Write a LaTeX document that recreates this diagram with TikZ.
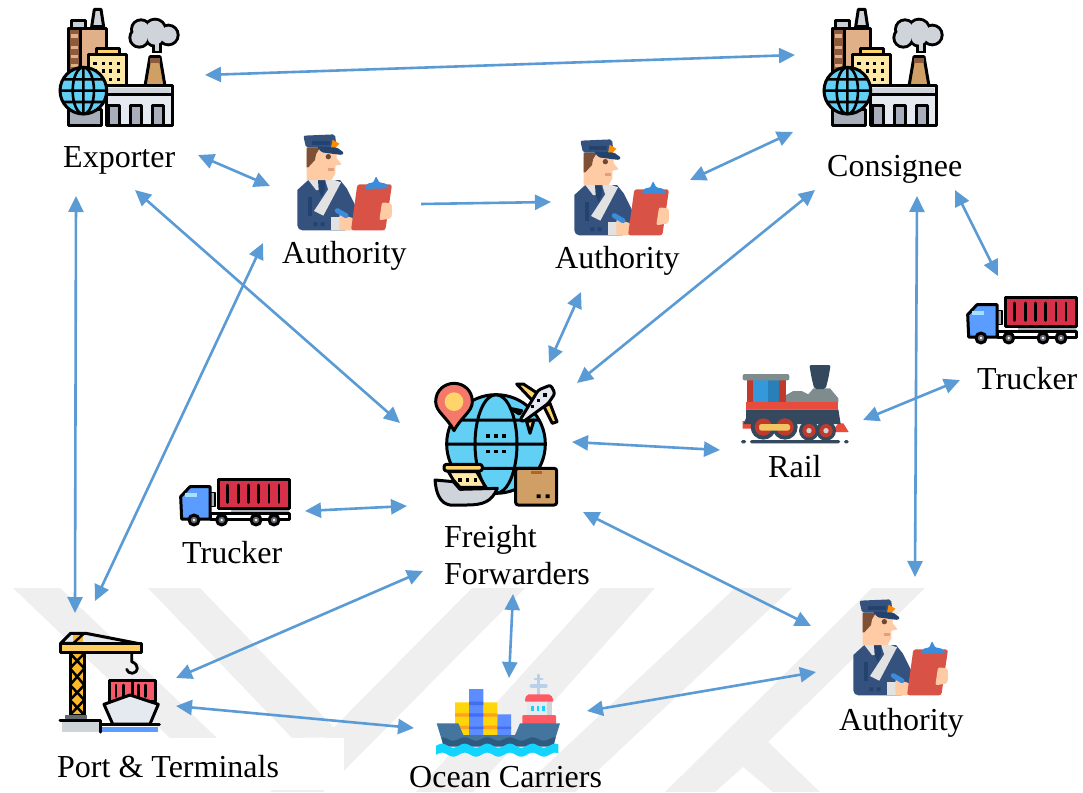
\documentclass[tikz,border=0pt]{standalone}
\usepackage{fontspec}
\setmainfont{Liberation Serif}
\usetikzlibrary{arrows.meta}
\definecolor{linkblue}{HTML}{5B9BD5}
\definecolor{wm}{HTML}{EFEFEF}
\definecolor{globeblue}{HTML}{62D0F5}
\definecolor{sandbrown}{HTML}{E0B088}
\definecolor{boxbrown}{HTML}{CF9F66}
\definecolor{darkbrown}{HTML}{8C5A3C}
\definecolor{yel}{HTML}{FFD56B}
\definecolor{paleyel}{HTML}{FDE9A5}
\definecolor{lgray}{HTML}{CFD3DA}
\definecolor{mgray}{HTML}{A8AFBB}
\definecolor{pale}{HTML}{E5E9F0}
\definecolor{navy}{HTML}{35527F}
\definecolor{dnavy}{HTML}{24426E}
\definecolor{skin}{HTML}{FFCBA4}
\definecolor{clipred}{HTML}{D85346}
\definecolor{clipblue}{HTML}{3B8DDB}
\definecolor{sash}{HTML}{E2E2E2}
\definecolor{trgray}{HTML}{7F8C8D}
\definecolor{trdark}{HTML}{34495E}
\definecolor{trred}{HTML}{E74C3C}
\definecolor{trdred}{HTML}{C0392B}
\definecolor{trblue}{HTML}{3498DB}
\definecolor{trblue2}{HTML}{2980B9}
\definecolor{pinred}{HTML}{F5796A}
\definecolor{contred}{HTML}{D7314A}
\definecolor{cabblue}{HTML}{5A9CFF}
\definecolor{craney}{HTML}{FDB927}
\definecolor{portred}{HTML}{F5596A}
\definecolor{hullblue}{HTML}{44759F}
\definecolor{wavedark}{HTML}{2F5A80}
\definecolor{seacyan}{HTML}{12D5FF}
\definecolor{boxyel}{HTML}{FFD60A}
\definecolor{boxblue}{HTML}{5C8CFF}
\definecolor{boxblued}{HTML}{3F6FF0}
\definecolor{bandor}{HTML}{FFA01E}
\definecolor{shipred}{HTML}{FF5A64}
\definecolor{mastblue}{HTML}{B8D0EA}
\tikzset{
  x=1pt,y=-1pt,
  conn/.style={draw=linkblue,line width=2.6pt,{Triangle[length=16pt,width=15pt]}-{Triangle[length=16pt,width=15pt]}},
  connone/.style={draw=linkblue,line width=2.6pt,-{Triangle[length=16pt,width=15pt]}},
  lab/.style={anchor=base west,inner sep=0pt,font=\fontsize{32}{37}\selectfont,text=black},
  ic/.style={x=0.33333pt,y=-0.33333pt,line join=round,line cap=round},
  ol/.style={draw=black,line width=3pt},
  factory/.pic={
    \begin{scope}[ic]
      \path[ol,fill=lgray] (155,80)--(163,28)--(183,28)--(191,80)--cycle;
      \path[ol,fill=mgray!60] (95,62) rectangle (135,88);
      \path[ol,fill=sandbrown] (85,85) rectangle (200,300);
      \path[ol,fill=darkbrown] (85,85) rectangle (120,300);
      \foreach \yy in {108,142,170,197}{\path[fill=sandbrown] (92,\yy-5) rectangle (114,\yy+5);}
      \path[ol,fill=yel] (168,145) rectangle (237,167);
      \path[ol,fill=paleyel] (145,165) rectangle (260,265);
      \foreach \xx in {165,190,212,235}{\foreach \yy in {190,213,238}{\path[fill=black] (\xx-5,\yy-5) rectangle (\xx+5,\yy+5);}}
      % smoke cloud made of overlapping lobes
      \foreach \cx/\cy/\cr in {303/88/24,345/90/28,385/105/25,298/113/24,345/110/24}{\fill[black] (\cx,\cy) circle [radius=\cr+9];}
      \fill[black] (336,125) rectangle (366,160);
      \foreach \cx/\cy/\cr in {303/88/24,345/90/28,385/105/25,298/113/24,345/110/24}{\fill[lgray] (\cx,\cy) circle [radius=\cr];}
      \fill[lgray] (345,125) rectangle (357,152);
      \path[ol,fill=boxbrown] (315,258)--(330,170)--(360,170)--(375,258)--cycle;
      \path[fill=darkbrown] (331,175) rectangle (359,188);
      \path[ol,fill=pale] (200,258) rectangle (398,378);
      \path[fill=lgray] (205,265) rectangle (390,280);
      \draw[black,line width=2.5pt] (200,284)--(398,284);
      \foreach \xx in {205,270,337}{\path[ol,fill=mgray] (\xx,318) rectangle (\xx+33,378);}
      \path[ol,fill=mgray] (85,330) rectangle (185,378);
      \path[ol,fill=globeblue] (130,272) circle [radius=70];
      \draw[black,line width=2.6pt] (130,272) ellipse [x radius=32,y radius=70] (130,202)--(130,342) (60,272)--(200,272) (72,238)--(188,238) (72,306)--(188,306);
    \end{scope}
  },
  official/.pic={
    \begin{scope}[ic]
      \fill[navy] (52,195) [rounded corners=5pt]--(52,316)--(210,316)--(230,250)[sharp corners]--(200,190)--(180,165)--(85,165)--cycle;
      \fill[dnavy] (85,215) rectangle (96,272);
      \fill[sash] (85,165)--(115,165)--(130,195)--(108,195)--cycle (135,165)--(165,165)--(145,195)--cycle;
      \fill[dnavy] (114,165)--(136,165)--(134,195)--(125,217)--(116,195)--cycle;
      \fill[sash] (163,165)--(183,172)--(130,272)--(102,258)--cycle;
      \fill[dnavy] (100,292) rectangle (112,303) (122,292) rectangle (134,303);
      \fill[sash] (153,275) rectangle (180,316);
      \fill[skin] (80,80)--(118,72)--(170,80)--(170,100)--(185,118)--(166,122)--(166,145)--(155,165)--(80,165)--cycle;
      \fill[darkbrown!90!black] (80,68)--(120,68)--(108,88)--(105,105)--(85,127)--(80,127)--cycle;
      \fill[darkbrown!80!black] (145,95) circle [radius=8];
      \fill[sandbrown!90!red] (145,128) rectangle (163,138);
      \fill[navy,rounded corners=2pt] (70,32)--(165,28)--(170,68)--(78,68)--cycle;
      \fill[dnavy] (95,48) rectangle (150,60);
      \fill[orange!90!yellow] (158,44) -- (178,56) -- (165,70) -- (153,68) --cycle;
      \fill[dnavy,rounded corners=1.5pt] (110,64)--(172,68)--(193,84)--(186,90)--(125,82)--cycle;
      \fill[skin,rounded corners=2pt] (178,268)--(222,280)--(220,316)--(178,316)--cycle;
      \draw[clipblue,line width=5pt] (172,257)--(198,272);
      \fill[clipred,rounded corners=2.5pt] (232,178)--(336,178)--(316,316)--(213,316)--cycle;
      \fill[clipblue,rounded corners=1pt] (254,192)--(262,176)--(280,172)--(288,154)--(298,172)--(318,176)--(328,190)--cycle;
      \fill[skin,rounded corners=2pt] (306,232)--(336,235)--(335,280)--(298,286)--cycle;
    \end{scope}
  },
  hub/.pic={
    \begin{scope}[ic]
      \path[ol,fill=globeblue] (228,222) circle [radius=148];
      \draw[black,line width=3pt] (228,222) ellipse [x radius=63,y radius=148] (102,150)--(354,150) (80,222)--(376,222) (102,295)--(354,295);
      \foreach \xx in {204,228,252}{\foreach \yy in {198,245}{\fill (\xx-5,\yy-5) rectangle (\xx+5,\yy+5);}}
      \path[ol,fill=yel] (290,42)--(310,42)--(368,80)--(345,100)--cycle;
      \path[ol,fill=yel] (270,115)--(305,122)--(298,132)--cycle;
      \path[ol,fill=yel] (372,110)--(390,100)--(411,155)--(397,160)--cycle;
      \path[ol,fill=yel] (320,155)--(342,150)--(330,190)--cycle;
      \path[ol,fill=pale,rounded corners=2.5pt] (300,150)--(355,60)--(392,45)--(405,70)--(385,100)--(310,155)--cycle;
      \foreach \xx/\yy in {375/75,355/92,338/110}{\fill (\xx-5,\yy-5) rectangle (\xx+5,\yy+5);}
      \path[ol,fill=pinred] (102,182) .. controls (80,140) and (47,125) .. (47,95) .. controls (47,60) and (75,40) .. (102,40) .. controls (130,40) and (157,60) .. (157,95) .. controls (157,125) and (124,140) .. (102,182) -- cycle;
      \path[fill=yel] (102,95) circle [radius=28];
      \path[ol,fill=paleyel] (85,305)--(170,305)--(197,352)--(120,352)--(100,330)--cycle;
      \path[ol,fill=yel,rounded corners=2.5pt] (72,283) rectangle (187,303);
      \foreach \xx in {120,143,167}{\fill (\xx-5,325) rectangle (\xx+5,335);}
      \path[ol,fill=lgray] (45,330)--(100,335)--(120,358)--(232,355) .. controls (215,395) and (190,405) .. (140,405) -- (90,405) .. controls (60,400) and (48,370) .. (45,330) -- cycle;
      \path[ol,fill=boxbrown,rounded corners=2.5pt] (287,295) rectangle (410,405);
      \path[fill=darkbrown!70!orange] (332,302) rectangle (365,312);
      \fill (350,373) rectangle (362,384) (377,373) rectangle (389,384);
    \end{scope}
  },
  train/.pic={
    \begin{scope}[ic]
      \fill[trgray] (168,142)--(168,120)--(190,108)--(215,108)--(235,118)--(250,100)--(300,100)--(325,130)--(325,142)--cycle;
      \fill[trdark,rounded corners=2pt] (238,30)--(302,30)--(295,70)--(287,102)--(253,102)--(245,70)--cycle;
      \fill[trdred] (50,75) rectangle (168,142);
      \fill[trblue] (70,75) rectangle (115,142);
      \fill[trblue2] (115,75) rectangle (148,142);
      \fill[trgray,rounded corners=2pt] (38,57) rectangle (178,76);
      \fill[trred] (48,142) rectangle (325,163);
      \fill[trred] (38,198) rectangle (65,221) (325,205)--(340,205)--(356,231)--(305,231)--cycle;
      \fill[trdark] (48,163)--(325,163)--(332,207)--(40,207)--(48,190)--cycle;
      \foreach \xx in {100,165}{\fill[trdark] (\xx,216) circle [radius=38]; \fill[trdred] (\xx,216) circle [radius=26];}
      \foreach \xx in {237,288}{\fill[trdark] (\xx,227) circle [radius=30]; \fill[trdred] (\xx,227) circle [radius=20]; \fill[lgray] (\xx,227) circle [radius=8];}
      \fill[yel!80!brown,rounded corners=2.5pt] (87,207) rectangle (180,227);
      \fill[trdark,rounded corners=1.5pt] (60,255) rectangle (330,265) (33,255) rectangle (48,265) (342,255) rectangle (356,265);
    \end{scope}
  },
  truck/.pic={
    \begin{scope}[ic]
      \path[ol,fill=contred] (145,42) rectangle (357,130);
      \foreach \xx in {172,205,235,265,297,327}{\draw[black,line width=2.9pt] (\xx,60)--(\xx,112);}
      \path[fill=mgray] (122,82) rectangle (135,125);
      \draw[black,line width=1.5pt] (122,82) rectangle (135,125);
      \draw[mgray,line width=2pt] (185,137)--(355,137);
      \path[ol,fill=white] (120,146) rectangle (358,162);
      \path[ol,fill=cabblue] (32,95)--(60,65)--(120,65)--(120,162)--(35,162)--cycle;
      \path[fill=cyan!35] (45,85) rectangle (80,95);
      \foreach \xx in {72,155,258,312}{\path[ol,fill=mgray!60!black] (\xx,165) circle [radius=15]; \fill[white] (\xx,165) circle [radius=4];}
    \end{scope}
  },
  port/.pic={
    \begin{scope}[ic]
      \path[ol,fill=pale] (62,70)--(92,40)--(138,40)--(303,72)--cycle;
      \path[fill=craney] (100,44) rectangle (130,70);
      \path[ol,fill=craney] (90,95) rectangle (133,285);
      \draw[black,line width=2.5pt] (100,70)--(130,42) (90,100)--(133,145)--(90,195)--(133,240)--(90,285) (133,100)--(90,145)--(133,195)--(90,240)--(133,285);
      \path[ol,fill=yel!90!orange] (62,70) rectangle (305,96);
      \draw[black,line width=2.8pt] (275,98)--(275,125) .. controls (300,135) and (295,158) .. (277,160) .. controls (268,160) and (262,155) .. (260,148);
      \path[fill=mgray!60!black] (75,285) rectangle (140,296);
      \path[fill=lgray] (65,303) rectangle (182,336);
      \path[fill=cabblue] (187,320) rectangle (355,336);
      \draw[black,line width=3pt] (60,300)--(182,300)--(182,336) (182,314)--(358,314);
      \path[ol,fill=portred] (207,180) rectangle (345,245);
      \draw[black,line width=2.5pt] (277,180)--(277,230) (228,195)--(228,230) (250,195)--(250,230) (295,195)--(295,230) (317,195)--(317,230);
      \path[ol,fill=pale] (192,253)--(270,225)--(355,253)--(330,312)--(218,312)--cycle;
    \end{scope}
  },
  vessel/.pic={
    \begin{scope}[ic]
      \draw[mastblue,line width=2.7pt] (340,30)--(340,90);
      \draw[mastblue,line width=4pt] (320,62)--(362,62);
      \draw[mastblue,line width=2.5pt] (330,42)--(352,42);
      \fill[boxyel] (90,112) rectangle (132,210) (175,112) rectangle (217,210);
      \fill[bandor] (90,145) rectangle (217,155) (90,182) rectangle (217,192);
      \fill[boxblue] (132,72) rectangle (175,210) (217,148) rectangle (258,210);
      \fill[boxblued] (132,110) rectangle (175,120) (132,145) rectangle (175,155) (132,185) rectangle (175,192) (217,185) rectangle (258,192);
      \fill[pale] (305,106) rectangle (380,152);
      \fill[lgray] (365,106) rectangle (380,152);
      \foreach \xx in {318,335,352}{\fill[seacyan] (\xx,122) rectangle (\xx+8,138);}
      \fill[shipred,rounded corners=2pt] (298,110)--(305,88)--(378,88)--(387,110)--cycle;
      \fill[shipred,rounded corners=1pt] (292,178)--(292,150)--(393,150)--(393,178)--cycle;
      \fill[hullblue] (35,175)--(100,175)--(115,210)--(270,210)--(285,175)--(405,175)--(385,240)--(55,240)--cycle;
      \fill[wavedark] plot[domain=50:392,samples=70] (\x,{222+5*sin(\x*5.3)}) -- (385,245)--(55,245)--cycle;
      \fill[seacyan] plot[domain=33:400,samples=90] (\x,{242+6*sin(\x*5.3)}) -- plot[domain=400:33,samples=90] (\x,{269+6*sin(\x*5.3)}) -- cycle;
    \end{scope}
  }
}
\begin{document}
\begin{tikzpicture}
\useasboundingbox (0,0) rectangle (1083,792);
\fill[white] (0,0) rectangle (1083,792);
% background watermark
\begin{scope}
\clip (0,0) rectangle (1083,792);
\fill[wm] (13,588)--(60,588)--(217,738)--(170,738)--cycle;
\fill[wm] (148,588)--(200,588)--(343,737)--(292,738)--cycle;
\fill[wm] (472,588)--(525,588)--(323,792)--(270,792)--cycle;
\fill[wm] (600,588)--(655,588)--(473,792)--(416,792)--cycle;
\fill[wm] (735,588)--(792,588)--(575,792)--(518,792)--cycle;
\fill[wm] (872,588)--(925,588)--(768,742)--(820,792)--(773,792)--(743,767)--(715,792)--(665,792)--cycle;
\fill[white] (0,738) rectangle (344,790);
\end{scope}
% icons
\pic at (40,0) {factory};
\pic at (804,0) {factory};
\pic at (280,125) {official};
\pic at (557,130) {official};
\pic at (836,590) {official};
\pic at (420,370) {hub};
\pic at (730,355) {train};
\pic at (170,465) {truck};
\pic at (957,283) {truck};
\pic at (40,620) {port};
\pic at (425,665) {vessel};
% labels
\node[lab] (exporter) at (63,167) {Exporter};
\node[lab] (auth1) at (282,263) {Authority};
\node[lab] (auth2) at (555,268) {Authority};
\node[lab] (consignee) at (827,176) {Consignee};
\node[lab] (truckerR) at (977,389) {Trucker};
\node[lab] (rail) at (768,477) {Rail};
\node[lab] (truckerL) at (182,563) {Trucker};
\node[lab] (ff1) at (444,547) {Freight};
\node[lab] (ff2) at (444,584) {Forwarders};
\node[lab] (port) at (57,777) {Port \& Terminals};
\node[lab] (ocean) at (409,787) {Ocean Carriers};
\node[lab] (auth3) at (839,730) {Authority};
% connector ends
\coordinate (e1) at (205,75);  \coordinate (c1) at (795,55);
\coordinate (e2) at (198,155); \coordinate (a1w) at (270,186);
\coordinate (a1e) at (421,204); \coordinate (a2w) at (551,202);
\coordinate (a2e) at (690,180); \coordinate (c2) at (793,132);
\coordinate (e3) at (135,190); \coordinate (f1) at (400,423);
\coordinate (e4) at (76,196);  \coordinate (p1) at (75,613);
\coordinate (a1s) at (263,243); \coordinate (p2) at (95,601);
\coordinate (a2s) at (581,292); \coordinate (f2) at (549,363);
\coordinate (c3) at (815,190); \coordinate (f3) at (577,383);
\coordinate (f4) at (572,442); \coordinate (r1) at (720,450);
\coordinate (r2) at (863,420); \coordinate (t1) at (960,380);
\coordinate (c4) at (955,190); \coordinate (t2) at (998,276);
\coordinate (c5) at (917,196); \coordinate (a3n) at (915,577);
\coordinate (f5) at (583,512); \coordinate (a3w) at (811,626);
\coordinate (tl) at (305,511); \coordinate (f6) at (407,506);
\coordinate (f7) at (423,571); \coordinate (p3) at (176,678);
\coordinate (f8) at (513,594); \coordinate (o1) at (509,678);
\coordinate (p4) at (176,706); \coordinate (o2) at (414,728);
\coordinate (o3) at (587,711); \coordinate (a3s) at (816,672);
% connectors
\draw[conn] (e1) -- (c1);
\draw[conn] (e2) -- (a1w);
\draw[connone] (a1e) -- (a2w);
\draw[conn] (a2e) -- (c2);
\draw[conn] (e3) -- (f1);
\draw[conn] (e4) -- (p1);
\draw[conn] (a1s) -- (p2);
\draw[conn] (a2s) -- (f2);
\draw[conn] (c3) -- (f3);
\draw[conn] (f4) -- (r1);
\draw[conn] (r2) -- (t1);
\draw[conn] (c4) -- (t2);
\draw[conn] (c5) -- (a3n);
\draw[conn] (f5) -- (a3w);
\draw[conn] (tl) -- (f6);
\draw[conn] (f7) -- (p3);
\draw[conn] (f8) -- (o1);
\draw[conn] (p4) -- (o2);
\draw[conn] (o3) -- (a3s);
\end{tikzpicture}
\end{document}
